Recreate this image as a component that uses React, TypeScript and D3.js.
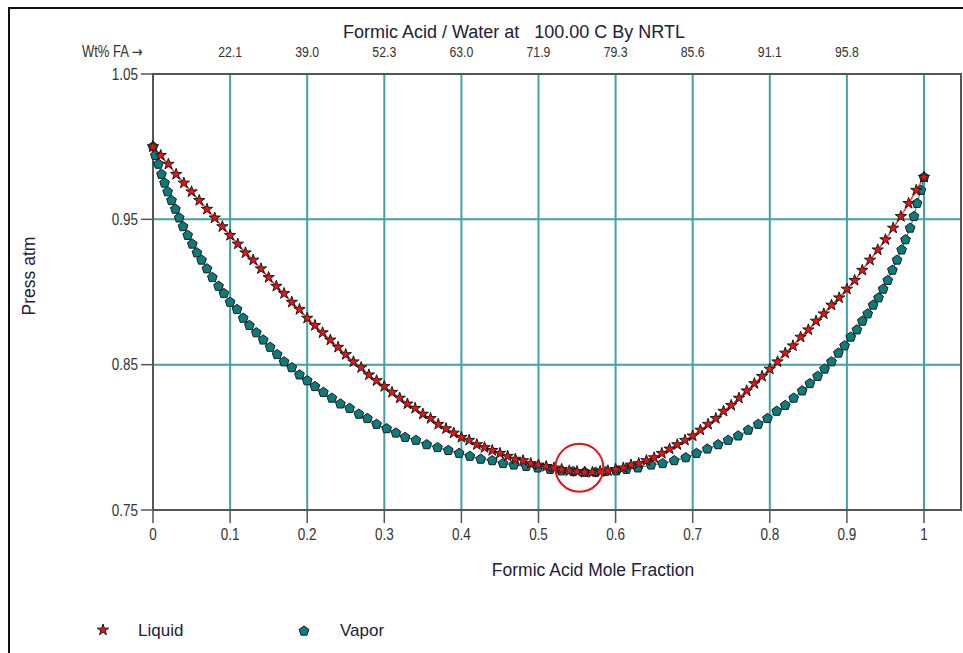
import React, { useEffect, useRef } from "react";
import * as d3 from "d3";

// liquid mole fraction of formic acid (0.00 .. 1.00, step 0.01)
const liquidX = [
  0.0, 0.01, 0.02, 0.03, 0.04, 0.05, 0.06, 0.07, 0.08, 0.09,
  0.1, 0.11, 0.12, 0.13, 0.14, 0.15, 0.16, 0.17, 0.18, 0.19,
  0.2, 0.21, 0.22, 0.23, 0.24, 0.25, 0.26, 0.27, 0.28, 0.29,
  0.3, 0.31, 0.32, 0.33, 0.34, 0.35, 0.36, 0.37, 0.38, 0.39,
  0.4, 0.41, 0.42, 0.43, 0.44, 0.45, 0.46, 0.47, 0.48, 0.49,
  0.5, 0.51, 0.52, 0.53, 0.54, 0.55, 0.56, 0.57, 0.58, 0.59,
  0.6, 0.61, 0.62, 0.63, 0.64, 0.65, 0.66, 0.67, 0.68, 0.69,
  0.7, 0.71, 0.72, 0.73, 0.74, 0.75, 0.76, 0.77, 0.78, 0.79,
  0.8, 0.81, 0.82, 0.83, 0.84, 0.85, 0.86, 0.87, 0.88, 0.89,
  0.9, 0.91, 0.92, 0.93, 0.94, 0.95, 0.96, 0.97, 0.98, 0.99, 1.0,
];

// bubble pressure, atm
const pressure = [
  1.0, 0.994, 0.988, 0.981, 0.975, 0.969, 0.963, 0.957, 0.951, 0.945,
  0.939, 0.933, 0.927, 0.922, 0.916, 0.91, 0.904, 0.899, 0.893, 0.888,
  0.882, 0.877, 0.872, 0.867, 0.862, 0.857, 0.852, 0.848, 0.843, 0.839,
  0.835, 0.831, 0.827, 0.823, 0.82, 0.816, 0.813, 0.809, 0.806, 0.803,
  0.8, 0.798, 0.795, 0.793, 0.791, 0.789, 0.787, 0.785, 0.784, 0.782,
  0.781, 0.78, 0.779, 0.778, 0.777, 0.7765, 0.776, 0.776, 0.7765, 0.777,
  0.778, 0.779, 0.781, 0.782, 0.784, 0.786, 0.789, 0.792, 0.795, 0.798,
  0.801, 0.805, 0.809, 0.813, 0.818, 0.822, 0.827, 0.832, 0.837, 0.842,
  0.847, 0.852, 0.858, 0.863, 0.869, 0.874, 0.88, 0.885, 0.891, 0.896,
  0.902, 0.908, 0.915, 0.922, 0.929, 0.936, 0.944, 0.952, 0.961, 0.97, 0.979,
];

// vapor mole fraction at the same pressures
const vaporY = [
  0.0, 0.003, 0.007, 0.011, 0.015, 0.019, 0.024, 0.029, 0.034, 0.039,
  0.045, 0.051, 0.057, 0.063, 0.07, 0.077, 0.085, 0.092, 0.1, 0.109,
  0.117, 0.125, 0.134, 0.143, 0.152, 0.161, 0.17, 0.18, 0.19, 0.2,
  0.21, 0.221, 0.232, 0.243, 0.255, 0.267, 0.278, 0.29, 0.303, 0.315,
  0.327, 0.341, 0.355, 0.369, 0.383, 0.397, 0.411, 0.425, 0.44, 0.454,
  0.468, 0.484, 0.499, 0.515, 0.53, 0.545, 0.56, 0.574, 0.587, 0.601,
  0.614, 0.629, 0.646, 0.661, 0.676, 0.691, 0.705, 0.719, 0.733, 0.746,
  0.759, 0.772, 0.785, 0.797, 0.809, 0.82, 0.831, 0.842, 0.852, 0.862,
  0.871, 0.88, 0.889, 0.897, 0.905, 0.913, 0.92, 0.927, 0.934, 0.941,
  0.947, 0.953, 0.959, 0.965, 0.971, 0.976, 0.982, 0.987, 0.991, 0.996, 1.0,
];

const xTicks = [0, 0.1, 0.2, 0.3, 0.4, 0.5, 0.6, 0.7, 0.8, 0.9, 1];
const xTickLabels = ["0", "0.1", "0.2", "0.3", "0.4", "0.5", "0.6", "0.7", "0.8", "0.9", "1"];
const wtTicks = [0.1, 0.2, 0.3, 0.4, 0.5, 0.6, 0.7, 0.8, 0.9];
const wtLabels = ["22.1", "39.0", "52.3", "63.0", "71.9", "79.3", "85.6", "91.1", "95.8"];
const yTicks = [0.75, 0.85, 0.95, 1.05];
const yGrid = [0.85, 0.95];
const azeotrope = { x: 0.553, p: 0.779 };

const FONT = "'Liberation Sans', Arial, sans-serif";
const GRID = "#3fa3a3";
const AXIS = "#555";
const INK = "#20203a";

const pentagon = {
  draw(ctx: any, size: number) {
    const r = Math.sqrt(size / 2.378);
    for (let i = 0; i < 5; i++) {
      const a = -Math.PI / 2 + (i * 2 * Math.PI) / 5;
      const px = r * Math.cos(a);
      const py = r * Math.sin(a);
      if (i === 0) ctx.moveTo(px, py);
      else ctx.lineTo(px, py);
    }
    ctx.closePath();
  },
};

const App = () => {
  const ref = useRef<SVGSVGElement>(null);

  useEffect(() => {
    const width = 963;
    const height = 653;
    const svg = d3.select(ref.current);
    svg.selectAll("*").remove();
    svg.attr("width", width).attr("height", height);

    const left = 153;
    const right = 961;
    const top = 74;
    const bottom = 510;

    const x = d3.scaleLinear().domain([0, 1]).range([left, 924]);
    const y = d3.scaleLinear().domain([0.75, 1.05]).range([bottom, top]);

    // text helper, small labels are drawn a bit taller than wide like the original
    const label = (
      tx: number,
      ty: number,
      str: string,
      size: number,
      anchor = "start",
      sy = 1,
      color = "#333"
    ) =>
      svg
        .append("text")
        .attr("transform", `translate(${tx},${ty}) scale(1,${sy})`)
        .attr("text-anchor", anchor)
        .style("font-family", FONT)
        .style("font-size", size + "px")
        .style("white-space", "pre")
        .attr("fill", color)
        .text(str);

    svg.append("rect").attr("width", width).attr("height", height).attr("fill", "#fff");

    // outer frame
    svg
      .append("rect")
      .attr("x", 9)
      .attr("y", 8)
      .attr("width", 980)
      .attr("height", 700)
      .attr("fill", "none")
      .attr("stroke", "#111")
      .attr("stroke-width", 2);

    // grid
    svg
      .append("g")
      .selectAll("line")
      .data(xTicks.slice(1))
      .join("line")
      .attr("x1", (d) => x(d))
      .attr("x2", (d) => x(d))
      .attr("y1", top)
      .attr("y2", bottom)
      .attr("stroke", GRID)
      .attr("stroke-width", 2);

    svg
      .append("g")
      .selectAll("line")
      .data(yGrid)
      .join("line")
      .attr("x1", left)
      .attr("x2", right)
      .attr("y1", (d) => y(d))
      .attr("y2", (d) => y(d))
      .attr("stroke", GRID)
      .attr("stroke-width", 2);

    // plot box
    svg
      .append("path")
      .attr("d", `M${left},${top}H${right}V${bottom}H${left}Z`)
      .attr("fill", "none")
      .attr("stroke", AXIS)
      .attr("stroke-width", 2);

    // y ticks
    yTicks.forEach((t) => {
      svg
        .append("line")
        .attr("x1", left - 12)
        .attr("x2", left)
        .attr("y1", y(t))
        .attr("y2", y(t))
        .attr("stroke", AXIS)
        .attr("stroke-width", 1.5);
      label(left - 15, y(t) + 5.5, t.toFixed(2), 13.5, "end", 1.2);
    });

    // x ticks
    xTicks.forEach((t, i) => {
      svg
        .append("line")
        .attr("x1", x(t))
        .attr("x2", x(t))
        .attr("y1", bottom)
        .attr("y2", bottom + 13)
        .attr("stroke", AXIS)
        .attr("stroke-width", 1.5);
      label(x(t), bottom + 30, xTickLabels[i], 13.5, "middle", 1.25);
    });

    // weight percent labels on top
    wtTicks.forEach((t, i) => {
      label(x(t), 57, wtLabels[i], 12.3, "middle", 1.2);
    });
    const wt = label(82, 57, "Wt% FA ", 13, "start", 1.2);
    wt.append("tspan")
      .style("font-family", "'DejaVu Sans', sans-serif")
      .style("font-size", "13px")
      .text("\u2192");

    // titles
    label(514, 38, "Formic Acid / Water at   100.00 C By NRTL", 18, "middle", 1, INK);
    label(593, 576, "Formic Acid Mole Fraction", 17.5, "middle", 1, INK);

    svg
      .append("text")
      .attr("transform", "translate(35,276) rotate(-90)")
      .attr("text-anchor", "middle")
      .style("font-family", FONT)
      .style("font-size", "17.5px")
      .attr("fill", INK)
      .text("Press atm");

    const liquid = liquidX.map((v, i) => ({ x: v, p: pressure[i] }));
    const vapor = vaporY.map((v, i) => ({ x: v, p: pressure[i] }));

    const line = d3
      .line<{ x: number; p: number }>()
      .x((d) => x(d.x))
      .y((d) => y(d.p));

    svg
      .append("path")
      .datum(vapor)
      .attr("d", line)
      .attr("fill", "none")
      .attr("stroke", "#0a7f7f")
      .attr("stroke-width", 1);

    svg
      .append("path")
      .datum(liquid)
      .attr("d", line)
      .attr("fill", "none")
      .attr("stroke", "#ff3a3a")
      .attr("stroke-width", 1.5);

    const starPath = d3.symbol().type(d3.symbolStar).size(40)();
    const pentPath = d3.symbol().type(pentagon as any).size(62)();

    svg
      .append("g")
      .selectAll("path")
      .data(vapor)
      .join("path")
      .attr("transform", (d) => `translate(${x(d.x)},${y(d.p)})`)
      .attr("d", pentPath)
      .attr("fill", "#0b7b7b")
      .attr("stroke", "#1a1a1a")
      .attr("stroke-width", 1);

    svg
      .append("g")
      .selectAll("path")
      .data(liquid)
      .join("path")
      .attr("transform", (d) => `translate(${x(d.x)},${y(d.p)})`)
      .attr("d", starPath)
      .attr("fill", "#ee1111")
      .attr("stroke", "#1a1a1a")
      .attr("stroke-width", 1);

    // azeotrope highlight
    svg
      .append("circle")
      .attr("cx", x(azeotrope.x))
      .attr("cy", y(azeotrope.p))
      .attr("r", 24)
      .attr("fill", "none")
      .attr("stroke", "#e81010")
      .attr("stroke-width", 2);

    // legend
    svg
      .append("path")
      .attr("transform", "translate(103,630)")
      .attr("d", starPath)
      .attr("fill", "#ee1111")
      .attr("stroke", "#1a1a1a");
    label(138, 636, "Liquid", 17, "start", 1, INK);
    svg
      .append("path")
      .attr("transform", "translate(304,631)")
      .attr("d", pentPath)
      .attr("fill", "#0b7b7b")
      .attr("stroke", "#1a1a1a");
    label(340, 636, "Vapor", 17, "start", 1, INK);
  }, []);

  return (
    <div style={{ position: "absolute", left: 0, top: 0 }}>
      <svg ref={ref}></svg>
    </div>
  );
};

export default App;
